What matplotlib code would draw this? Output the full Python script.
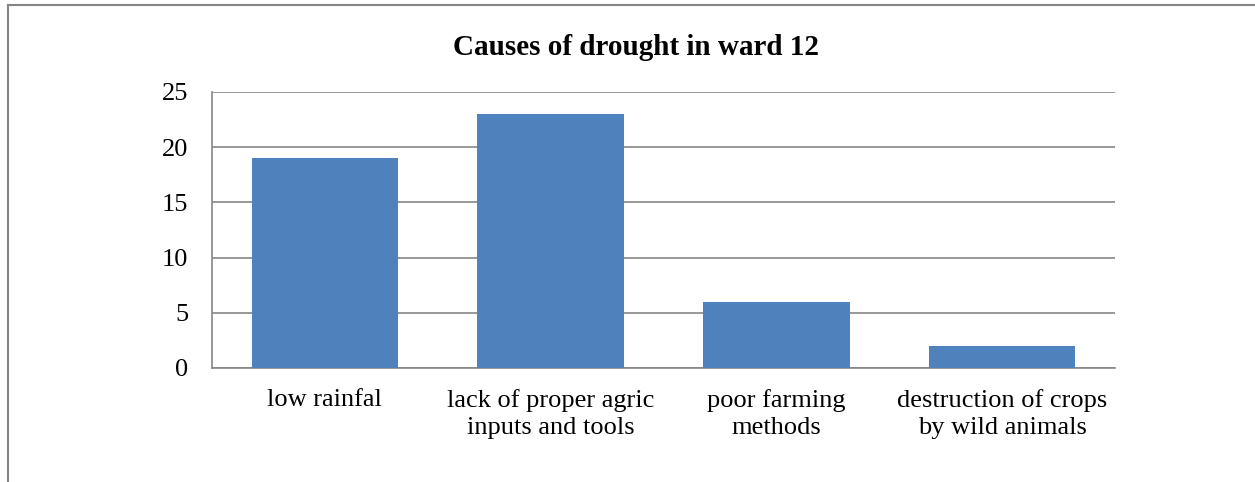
import matplotlib
matplotlib.use("Agg")
import matplotlib.pyplot as plt
from matplotlib.lines import Line2D

categories = ["low rainfal", "lack of proper agric\ninputs and tools", "poor farming\nmethods", "destruction of crops\nby wild animals"]
values = [19, 23, 6, 2]
yticks = [0, 5, 10, 15, 20, 25]
title = "Causes of drought in ward 12"

plt.rcParams['font.family'] = ['Liberation Serif', 'DejaVu Serif']

fig = plt.figure(figsize=(12.55, 4.82), dpi=100)
W, H = 1255, 482
ax = fig.add_axes([212/W, 1-368/H, (1115-212)/W, (368-92)/H])

x = list(range(len(categories)))
ax.bar(x, values, width=0.65, color='#4F81BD', zorder=3)
ax.set_xlim(-0.5, len(categories)-0.5)
ax.set_ylim(0, 25)
ax.set_yticks(yticks)
ax.set_yticklabels([str(t) for t in yticks], fontsize=19)
ax.set_xticks(x)
ax.set_xticklabels(categories, fontsize=19, linespacing=1.3)
ax.tick_params(axis='both', length=0)
ax.tick_params(axis='y', pad=17)
ax.tick_params(axis='x', pad=15)
ax.grid(axis='y', color='#868686', linewidth=1.2, zorder=0)
for s in ['top', 'right']:
    ax.spines[s].set_visible(False)
for s in ['left', 'bottom']:
    ax.spines[s].set_color('#868686')
    ax.spines[s].set_linewidth(1.2)

fig.text(636/W, 1-55/H, title, ha='center', va='baseline', fontsize=21, fontweight='bold')

# outer frame (left and top)
fig.add_artist(Line2D([8/W, 8/W], [0, 1-5/H], color='#868686', linewidth=1.5, transform=fig.transFigure))
fig.add_artist(Line2D([8/W, 1], [1-5/H, 1-5/H], color='#868686', linewidth=1.5, transform=fig.transFigure))

fig.savefig("out.png", dpi=100)
